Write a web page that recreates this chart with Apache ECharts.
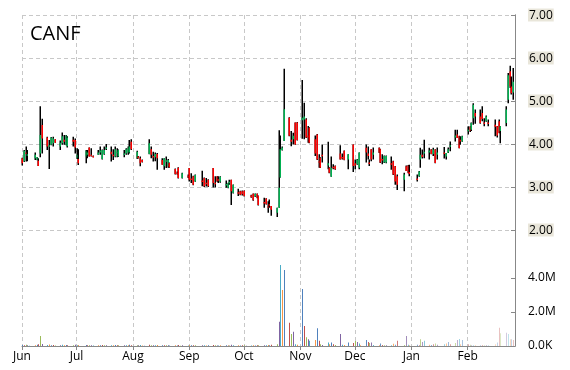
<!DOCTYPE html>
<html><head><meta charset="utf-8">
<script src="https://cdn.jsdelivr.net/npm/echarts@6/dist/echarts.min.js"></script>
<style>html,body{margin:0;padding:0;background:#fff}#c{width:570px;height:370px}</style>
</head><body><div id="c"></div>
<script>
const ticker = 'CANF';
const firstDay = [2020, 5, 1];   // 2020-06-01
const lastDay = [2021, 1, 27];   // 2021-02-27
const holidays = ['2020-07-03','2020-09-07','2020-11-26','2020-12-25','2021-01-01','2021-01-18','2021-02-15'];
const monthNames = ['Jan','Feb','Mar','Apr','May','Jun','Jul','Aug','Sep','Oct','Nov','Dec'];
const priceTicks = [2, 3, 4, 5, 6, 7];
const volumeTicks = [0, 2e6, 4e6];

// one line per trading week
const opens = [
3.67,3.60,3.80,3.74,null, 3.67,3.63,3.61,3.78,4.44, 4.15,3.95,3.98,4.02,4.11, 3.94,4.02,4.10,3.98,3.95,
4.10,4.09,3.68,3.65, 3.71,3.75,3.92,3.75,3.72, 3.75,3.80,3.65,3.77,3.90, 3.82,3.75,3.71,3.80,3.71,
3.75,3.78,3.80,3.80,4.05, 3.67,3.71,3.67,3.63,null, 3.77,3.88,3.72,3.69,3.77, 3.63,3.48,3.60,3.48,3.56,
3.42,3.33,3.45,null,3.21, 3.26,3.44,3.20,3.25,3.13, 3.15,3.21,3.10,3.17, 3.44,3.10,3.25,3.18,3.12,
3.05,2.98,3.10,3.17,2.86, 2.88,2.90,2.90,2.91,null, 2.81,2.84,2.78,2.84,2.79, 2.65,2.73,2.55,2.60,2.56,
2.40,2.52,3.22,3.86,4.07, 4.61,4.10,4.11,4.50,4.50, 4.55,4.57,4.57,4.20,4.38, 4.11,4.22,3.60,3.68,3.75,
3.50,3.45,3.24,3.47,3.49, 3.78,3.70,3.84,3.64, 3.99,3.55,3.53,3.45,null, 3.91,3.78,3.57,3.88,3.75,
3.91,3.88,3.65,3.57,3.57, 3.55,3.60,3.48,3.25, 3.17,3.48,3.50,3.35, 3.20,3.25,3.64,3.75,3.78,
3.80,3.87,3.77,3.87,3.75, 3.80,3.71,3.80,3.95, 4.15,4.22,4.18,4.10,4.06, 4.30,4.40,4.33,4.60,4.72,
4.64,4.72,4.50,4.53,4.50, 4.45,4.41,4.53,4.30, 4.49,5.03,5.69,5.34,5.20];
const highs = [
3.68,3.86,3.94,3.86,null, 3.80,3.70,3.67,4.88,4.59, 4.17,4.09,4.16,4.17,4.11, 4.08,4.27,4.21,4.21,4.18,
4.17,4.13,3.90,3.88, 3.86,3.86,3.92,3.90,3.73, 3.86,3.94,3.87,3.94,4.00, 3.94,3.88,3.94,3.90,3.87,
3.86,3.90,3.94,4.09,4.11, 3.84,3.72,3.71,3.64,null, 4.11,3.94,3.82,3.80,3.79, 3.67,3.67,3.71,3.65,3.57,
3.43,3.36,3.46,null,3.33, 3.29,3.44,3.32,3.26,3.29, 3.38,3.22,3.21,3.18, 3.44,3.25,3.25,3.25,3.25,
3.15,3.10,3.17,3.17,3.06, 2.96,2.91,2.92,2.92,null, 2.82,2.85,2.85,2.85,2.80, 2.75,2.74,2.67,2.71,2.56,
2.52,4.32,4.20,3.94,5.75, 4.62,4.30,4.26,4.50,4.51, 5.49,4.96,4.60,4.42,4.39, 4.20,4.23,3.76,3.69,3.99,
4.05,3.46,3.71,3.53,3.50, 3.97,3.78,3.85,3.76, 3.99,3.64,3.65,3.80,null, 3.99,3.94,3.64,3.88,3.92,
3.92,3.89,3.76,3.73,3.73, 3.71,3.61,3.49,3.29, 3.33,3.50,3.51,3.52, 3.29,3.37,3.91,3.87,4.10,
3.91,3.88,3.91,3.88,3.92, 3.93,3.79,3.92,4.06, 4.33,4.33,4.19,4.18,4.19, 4.41,4.41,4.50,4.95,4.80,
4.80,4.88,4.60,4.66,4.57, 4.57,4.42,4.57,4.41, 4.88,5.65,5.82,5.57,5.77];
const lows = [
3.50,3.58,3.59,3.60,null, 3.63,3.62,3.49,3.69,3.78, 3.86,3.42,3.97,3.94,4.03, 3.86,3.98,3.98,3.97,3.92,
3.94,3.78,3.65,3.51, 3.55,3.67,3.71,3.71,3.69, 3.75,3.75,3.64,3.75,3.86, 3.59,3.63,3.69,3.69,3.70,
3.69,3.75,3.75,3.78,3.86, 3.65,3.66,3.48,3.57,null, 3.76,3.67,3.59,3.60,3.40, 3.52,3.40,3.44,3.45,3.45,
3.29,3.29,3.20,null,3.20, 3.21,3.13,3.09,3.04,3.12, 3.02,3.00,3.01,3.00, 2.99,2.99,3.12,3.09,3.10,
2.98,2.97,3.05,2.58,2.85, 2.79,2.81,2.80,2.78,null, 2.75,2.68,2.77,2.74,2.57, 2.52,2.59,2.40,2.52,2.33,
2.30,2.52,3.22,3.85,4.07, 4.18,3.95,3.99,3.98,4.08, 4.12,4.11,4.14,4.03,4.02, 3.72,3.63,3.45,3.44,3.57,
3.41,3.32,3.24,3.41,3.40, 3.64,3.64,3.62,3.41, 3.35,3.41,3.52,3.41,null, 3.57,3.64,3.49,3.60,3.64,
3.79,3.56,3.53,3.56,3.55, 3.40,3.28,3.05,2.93, 2.90,3.37,3.32,3.25, 3.13,3.24,3.45,3.66,3.67,
3.64,3.76,3.72,3.55,3.64, 3.66,3.64,3.79,3.83, 4.06,4.14,3.90,3.98,4.05, 4.22,4.28,4.30,4.45,4.47,
4.47,4.53,4.41,4.52,4.41, 4.18,4.15,4.25,4.02, 4.41,4.95,5.30,5.15,5.03];
const closes = [
3.55,3.84,3.77,3.76,null, 3.75,3.69,3.49,4.21,4.13, 3.94,3.97,4.15,4.13,4.03, 4.03,4.18,4.05,4.20,4.15,
4.05,3.92,3.75,3.55, 3.84,3.80,3.71,3.73,3.69, 3.80,3.85,3.86,3.86,3.92, 3.76,3.72,3.88,3.82,3.86,
3.78,3.88,3.90,3.94,3.88, 3.82,3.67,3.55,3.58,null, 4.02,3.75,3.70,3.77,3.67, 3.52,3.67,3.62,3.63,3.46,
3.30,3.31,3.21,null,3.32, 3.24,3.17,3.18,3.05,3.28, 3.12,3.02,3.08,3.02, 3.09,3.08,3.13,3.16,3.24,
3.07,3.09,3.12,2.90,3.05, 2.86,2.82,2.83,2.79,null, 2.76,2.69,2.84,2.75,2.58, 2.62,2.60,2.52,2.58,2.47,
2.52,2.98,3.88,3.92,4.81, 4.19,4.05,4.19,3.99,4.09, 4.61,4.64,4.15,4.15,4.03, 3.78,3.64,3.58,3.45,3.72,
3.55,3.33,3.45,3.45,3.41, 3.64,3.68,3.63,3.76, 3.49,3.50,3.64,3.80,null, 3.80,3.72,3.55,3.64,3.80,
3.80,3.57,3.62,3.72,3.72, 3.52,3.29,3.13,3.05, 3.29,3.37,3.33,3.30, 3.18,3.36,3.75,3.70,3.82,
3.85,3.77,3.87,3.56,3.80, 3.78,3.79,3.88,3.97, 4.20,4.14,3.90,4.06,4.18, 4.33,4.30,4.49,4.91,4.64,
4.49,4.58,4.48,4.64,4.48, 4.40,4.20,4.26,4.41, 4.80,5.60,5.34,5.18,5.45];
// volume in millions of shares
const volumesM = [
0.06,0.05,0.08,0.04,0.02, 0.05,0.08,0.10,0.59,0.12, 0.06,0.09,0.05,0.06,0.03, 0.04,0.07,0.05,0.06,0.04,
0.05,0.07,0.05,0.06, 0.06,0.04,0.05,0.04,0.03, 0.04,0.05,0.06,0.05,0.04, 0.05,0.04,0.06,0.04,0.05,
0.04,0.05,0.04,0.07,0.05, 0.05,0.04,0.06,0.03,0.02, 0.07,0.05,0.04,0.04,0.06, 0.04,0.05,0.04,0.04,0.03,
0.05,0.03,0.06,0.02,0.04, 0.03,0.06,0.04,0.05,0.04, 0.05,0.04,0.03,0.04, 0.06,0.04,0.03,0.03,0.04,
0.04,0.03,0.03,0.08,0.05, 0.04,0.03,0.04,0.04,0.02, 0.03,0.04,0.03,0.04,0.05, 0.05,0.04,0.06,0.05,0.08,
0.10,1.43,4.76,3.30,4.47, 1.37,0.71,0.84,0.10,0.08, 3.35,1.18,0.51,0.40,0.31, 0.35,1.04,0.31,0.10,0.06,
0.20,0.10,0.20,0.10,0.06, 0.71,0.08,0.06,0.20, 0.18,0.29,0.24,0.15,0.05, 0.35,0.24,0.18,0.20,0.06,
0.05,0.15,0.06,0.05,0.04, 0.04,0.13,0.08,0.31, 0.06,0.59,0.08,0.05, 0.08,0.05,0.40,0.24,0.31,
0.08,0.06,0.10,0.15,0.08, 0.10,0.15,0.24,0.10, 0.18,0.35,0.41,0.10,0.35, 0.10,0.08,0.05,0.05,0.04,
0.05,0.06,0.05,0.06,0.05, 0.10,0.20,1.08,0.75, 0.78,0.71,0.40,0.40,0.35];
const volumeColors = ['#4F81BD','#C0504D','#9BBB59','#8064A2','#4BACC6','#F79646'];

// calendar-day categories
function iso(d){return d.toISOString().slice(0,10);}
const days = [];
for (let t = Date.UTC(...firstDay); t <= Date.UTC(...lastDay); t += 86400000) days.push(iso(new Date(t)));
const tradingDates = days.filter(s => { const wd = new Date(s + 'T00:00:00Z').getUTCDay(); return wd !== 0 && wd !== 6 && holidays.indexOf(s) < 0; });
if (tradingDates.length !== opens.length || opens.length !== highs.length || lows.length !== closes.length || volumesM.length !== opens.length) {
  throw new Error('length mismatch ' + tradingDates.length + ' ' + opens.length + ' ' + highs.length + ' ' + lows.length + ' ' + closes.length + ' ' + volumesM.length);
}
const dayIndex = {}; days.forEach((d, i) => dayIndex[d] = i);

const candleData = [];
const volData = [];
tradingDates.forEach((d, i) => {
  const ci = dayIndex[d];
  if (opens[i] != null) candleData.push([ci, opens[i], highs[i], lows[i], closes[i]]);
  const fade = i < 125 ? 1 : Math.max(0.35, 1 - (i - 125) * 0.012);
  volData.push({ value: [ci, volumesM[i] * 1e6], color: volumeColors[i % 6], fade: fade });
});

const isMonthStart = (idx, val) => typeof val === 'string' ? val.slice(8) === '01' : days[idx].slice(8) === '01';
const monthLabel = (val) => monthNames[parseInt(val.slice(5, 7), 10) - 1];

const font = 'Open Sans';
const chart = echarts.init(document.getElementById('c'), null, { renderer: 'canvas' });
chart.setOption({
  animation: false,
  backgroundColor: '#fff',
  title: { text: ticker, left: 25, top: 19, textStyle: { fontFamily: font, fontSize: 20, fontWeight: 'normal', color: '#000' } },
  grid: { left: 22, right: 55, top: 15, bottom: 24 },
  xAxis: {
    type: 'category', data: days, boundaryGap: false,
    axisLine: { onZero: false, lineStyle: { color: '#888' } },
    axisTick: { interval: isMonthStart, length: 4, lineStyle: { color: '#888' } },
    axisLabel: { interval: isMonthStart, formatter: monthLabel, color: '#000', fontFamily: font, fontSize: 12, margin: 5 },
    splitLine: { show: true, interval: isMonthStart, lineStyle: { color: '#c8c8c8', type: [4, 3] } }
  },
  yAxis: [
    {
      type: 'value', position: 'right', min: -0.698, max: 7,
      axisLine: { show: true, onZero: false, lineStyle: { color: '#888' } },
      axisTick: { show: true, inside: true, length: 4, customValues: priceTicks, lineStyle: { color: '#888' } },
      axisLabel: { customValues: priceTicks, formatter: v => '{b|' + v.toFixed(2) + '}', margin: 13, align: 'left',
        rich: { b: { color: '#000', fontFamily: font, fontSize: 12, backgroundColor: '#E9E6DA', padding: [1, 1, 0, 1], lineHeight: 13 } } },
      splitLine: { show: true, lineStyle: { color: '#c8c8c8', type: [4, 3] } }
    },
    {
      type: 'value', position: 'right', min: 0, max: 19.47e6,
      axisLine: { show: true, onZero: false, lineStyle: { color: '#888' } },
      axisTick: { show: true, inside: true, length: 4, customValues: volumeTicks, lineStyle: { color: '#888' } },
      axisLabel: { customValues: volumeTicks, formatter: v => v === 0 ? '0.0K' : (v / 1e6).toFixed(1) + 'M', align: 'left', color: '#000', fontFamily: font, fontSize: 12, margin: 13 },
      splitLine: { show: false }
    }
  ],
  series: [
    {
      type: 'custom', name: 'volume', yAxisIndex: 1,
      data: volData.map(d => d.value),
      encode: { x: 0, y: 1 },
      renderItem: (params, api) => {
        const item = volData[params.dataIndex];
        const p0 = api.coord([api.value(0), 0]);
        const p1 = api.coord([api.value(0), api.value(1)]);
        const x = Math.round(p0[0]);
        return { type: 'rect', shape: { x: x, y: p1[1], width: 1, height: Math.max(p0[1] - p1[1], 0.5) },
          style: { fill: item.color, opacity: item.fade } };
      }
    },
    {
      type: 'custom', name: 'price', yAxisIndex: 0,
      data: candleData,
      encode: { x: 0, y: [1, 2, 3, 4] },
      renderItem: (params, api) => {
        const xi = api.value(0);
        const o = api.value(1), h = api.value(2), l = api.value(3), c = api.value(4);
        const x = Math.round(api.coord([xi, h])[0]);
        const yH = api.coord([xi, h])[1], yL = api.coord([xi, l])[1];
        const yO = api.coord([xi, o])[1], yC = api.coord([xi, c])[1];
        const top = Math.min(yO, yC), bh = Math.max(Math.abs(yO - yC), 1.5);
        return { type: 'group', children: [
          { type: 'rect', shape: { x: x - 0.5, y: yH, width: 1.5, height: Math.max(yL - yH, 1) }, style: { fill: '#000' } },
          { type: 'rect', shape: { x: x - 0.5, y: top, width: 1.5, height: bh }, style: { fill: c >= o ? '#00B050' : '#FF0000' } }
        ] };
      }
    }
  ]
});
</script></body></html>
